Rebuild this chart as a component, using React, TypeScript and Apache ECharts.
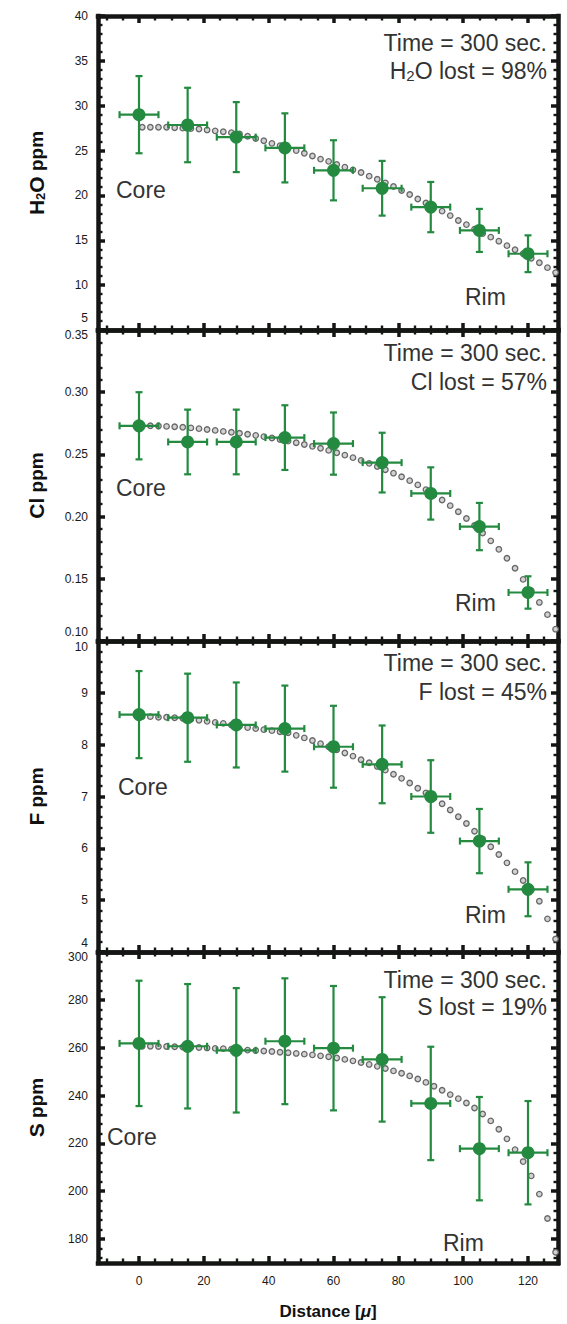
import React, { useEffect, useRef } from "react";
import * as echarts from "echarts";

// ---------- data ----------
const distance = [0, 15, 30, 45, 60, 75, 90, 105, 120];
const distanceErr = [6, 6, 6, 6, 6, 6, 6, 6, 6];

const h2oValues = [29.0, 27.85, 26.5, 25.3, 22.8, 20.8, 18.7, 16.1, 13.5];
const h2oErr = [4.3, 4.15, 3.9, 3.85, 3.35, 3.05, 2.8, 2.4, 2.05];
const clValues = [0.273, 0.26, 0.26, 0.2635, 0.2587, 0.2434, 0.2186, 0.192, 0.139];
const clErr = [0.027, 0.026, 0.026, 0.026, 0.025, 0.024, 0.021, 0.019, 0.013];
const fValues = [8.58, 8.52, 8.38, 8.31, 7.96, 7.62, 7.0, 6.14, 5.21];
const fErr = [0.84, 0.85, 0.82, 0.83, 0.79, 0.75, 0.7, 0.62, 0.52];
const sValues = [261.8, 260.6, 258.9, 262.7, 259.8, 255.1, 236.7, 217.8, 216.1];
const sErr = [26.2, 26.0, 26.0, 26.3, 26.0, 26.0, 23.7, 21.6, 21.6];

const modelDistance = [
  1, 3.5, 6, 8.5, 11, 13.5, 16, 18.5, 21, 23.5, 26, 28.5, 31, 33.5, 36, 38.5, 41, 43.5, 46, 48.5,
  51, 53.5, 56, 58.5, 61, 63.5, 66, 68.5, 71, 73.5, 76, 78.5, 81, 83.5, 86, 88.5, 91, 93.5, 96, 98.5,
  101, 103.5, 106, 108.5, 111, 113.5, 116, 118.5, 121, 123.5, 126, 128.5,
];
const h2oModel = [
  27.6, 27.6, 27.6, 27.6, 27.55, 27.5, 27.45, 27.4, 27.3, 27.2, 27.1, 27.0, 26.85, 26.6, 26.35, 26.1,
  25.8, 25.55, 25.3, 25.0, 24.7, 24.4, 24.05, 23.8, 23.45, 23.15, 22.85, 22.55, 22.15, 21.8, 21.4, 21.0,
  20.55, 20.1, 19.6, 19.15, 18.7, 18.25, 17.75, 17.2, 16.75, 16.25, 15.75, 15.35, 14.9, 14.4, 13.95,
  13.5, 13.0, 12.5, 11.95, 11.4,
];
const clModel = [
  0.273, 0.273, 0.2728, 0.2725, 0.2722, 0.2718, 0.2713, 0.2707, 0.27, 0.2693, 0.2685, 0.2678, 0.267,
  0.2662, 0.2653, 0.2643, 0.2632, 0.262, 0.2607, 0.2594, 0.258, 0.2565, 0.2549, 0.2532, 0.2513, 0.2494,
  0.2474, 0.2452, 0.2428, 0.2403, 0.2377, 0.2349, 0.232, 0.2289, 0.2255, 0.2217, 0.2175, 0.2133, 0.2088,
  0.2039, 0.1985, 0.1928, 0.1868, 0.1805, 0.1737, 0.1665, 0.1585, 0.1495, 0.1405, 0.131, 0.1212, 0.1095,
];
const fModel = [
  8.54, 8.54, 8.53, 8.53, 8.52, 8.51, 8.49, 8.47, 8.45, 8.43, 8.41, 8.38, 8.36, 8.33, 8.31, 8.29, 8.27,
  8.25, 8.23, 8.18, 8.13, 8.08, 8.02, 7.96, 7.9, 7.84, 7.78, 7.71, 7.65, 7.58, 7.51, 7.43, 7.35, 7.26,
  7.16, 7.07, 6.97, 6.86, 6.74, 6.61, 6.48, 6.33, 6.18, 6.03, 5.88, 5.72, 5.55, 5.38, 5.2, 4.98, 4.64, 4.25,
];
const sModel = [
  260.6, 260.6, 260.5, 260.5, 260.4, 260.3, 260.2, 260.1, 259.9, 259.7, 259.6, 259.4, 259.2, 259.0,
  258.8, 258.6, 258.4, 258.1, 257.9, 257.6, 257.3, 257.0, 256.6, 256.2, 255.7, 255.1, 254.5, 253.8,
  253.0, 252.2, 251.3, 250.3, 249.3, 248.2, 246.9, 245.5, 243.9, 242.2, 240.4, 238.7, 236.9, 234.8,
  232.3, 229.4, 225.9, 221.9, 217.4, 212.4, 206.4, 198.8, 188.6, 174.5,
];

// tick labels
const xTicks = [0, 20, 40, 60, 80, 100, 120];
const h2oTicks = [5, 10, 15, 20, 25, 30, 35, 40];
const clTicks = [0.1, 0.15, 0.2, 0.25, 0.3, 0.35];
const fTicks = [4, 5, 6, 7, 8, 9, 10];
const sTicks = [180, 200, 220, 240, 260, 280, 300];

const lostPercent = [98, 57, 45, 19];
const timeSec = 300;

// ---------- layout / style ----------
const W = 567;
const H = 1324;
const FONT = "'Liberation Sans', Arial, Helvetica, sans-serif";
const GREEN = "#238a40";
const AXIS = "#141614";
const TEXT = "#333333";
const X_MIN = -12.65;
const X_MAX = 129.25;
const GRID_LEFT = 98;
const GRID_RIGHT = 9;
const gridTops = [16, 330, 641, 952];
const gridHeights = [314, 311, 311, 311];

function steps(start: number, end: number, step: number, skip: number[]) {
  const out: number[] = [];
  for (let v = start; v <= end + 1e-9; v += step) {
    const r = Math.round(v * 1e6) / 1e6;
    if (!skip.some((s) => Math.abs(s - r) < 1e-9)) out.push(r);
  }
  return out;
}

const xMinor = steps(-10, 125, 5, xTicks);

const panels = [
  {
    axisName: "{e|H}{s|2}{e|O}{p| ppm}",
    lost: "{n|H}{s|2}{n|O lost = " + lostPercent[0] + "%}",
    min: 5, max: 40, ticks: h2oTicks, minor: steps(5, 40, 1, h2oTicks), dec: 0,
    values: h2oValues, errs: h2oErr, model: h2oModel,
    shiftMin: -12, shiftMax: 0,
    line1: 43, line2: 71, core: [116, 190], rim: [465, 297],
  },
  {
    axisName: "{e|Cl}{p| ppm}",
    lost: "{n|Cl lost = " + lostPercent[1] + "%}",
    min: 0.1, max: 0.35, ticks: clTicks, minor: steps(0.1, 0.35, 0.01, clTicks), dec: 2,
    values: clValues, errs: clErr, model: clModel,
    shiftMin: -9, shiftMax: 5,
    line1: 353, line2: 382, core: [116, 488], rim: [455, 603],
  },
  {
    axisName: "{e|F}{p| ppm}",
    lost: "{n|F lost = " + lostPercent[2] + "%}",
    min: 4, max: 10, ticks: fTicks, minor: steps(4, 10, 0.2, fTicks), dec: 0,
    values: fValues, errs: fErr, model: fModel,
    shiftMin: -9, shiftMax: 6,
    line1: 663, line2: 692, core: [118, 787], rim: [465, 915],
  },
  {
    axisName: "{e|S}{p| ppm}",
    lost: "{n|S lost = " + lostPercent[3] + "%}",
    min: 170, max: 300, ticks: sTicks, minor: steps(172, 300, 4, sTicks), dec: 0,
    values: sValues, errs: sErr, model: sModel,
    shiftMin: 0, shiftMax: 5,
    line1: 980, line2: 1007, core: [107, 1137], rim: [443, 1243],
  },
];

const lineOn = { show: true, onZero: false, lineStyle: { color: AXIS, width: 4.5, cap: "square" } };
const lineOff = { show: false, onZero: false };
const majorTick = (vals: number[]) => ({
  show: true, inside: true, length: 7, customValues: vals, lineStyle: { color: AXIS, width: 3.5 },
});
const minorTick = (vals: number[]) => ({
  show: true, inside: true, length: 4.5, customValues: vals, lineStyle: { color: AXIS, width: 2.4 },
});

function errorBarRender(params: any, api: any) {
  const x = api.value(0);
  const y = api.value(1);
  const ey = api.value(2);
  const ex = api.value(3);
  const c = api.coord([x, y]);
  const top = api.coord([x, y + ey]);
  const bot = api.coord([x, y - ey]);
  const left = api.coord([x - ex, y]);
  const right = api.coord([x + ex, y]);
  const cap = 3.5;
  const style = { stroke: GREEN, lineWidth: 2.2 };
  const ln = (x1: number, y1: number, x2: number, y2: number) => ({
    type: "line", shape: { x1, y1, x2, y2 }, style,
  });
  return {
    type: "group",
    children: [
      ln(c[0], top[1], c[0], bot[1]),
      ln(c[0] - cap, top[1], c[0] + cap, top[1]),
      ln(c[0] - cap, bot[1], c[0] + cap, bot[1]),
      ln(left[0], c[1], right[0], c[1]),
      ln(left[0], c[1] - cap, left[0], c[1] + cap),
      ln(right[0], c[1] - cap, right[0], c[1] + cap),
    ],
  };
}

function buildOption() {
  const grid: any[] = [];
  const xAxis: any[] = [];
  const yAxis: any[] = [];
  const series: any[] = [];
  const graphic: any[] = [];

  panels.forEach((p, i) => {
    grid.push({
      left: GRID_LEFT, right: GRID_RIGHT, top: gridTops[i], height: gridHeights[i],
      containLabel: false, outerBoundsMode: "none",
    });
    const base = i * 4;
    const xc = { type: "value", gridIndex: i, min: X_MIN, max: X_MAX, splitLine: { show: false } };
    const isLast = i === panels.length - 1;
    xAxis.push({
      ...xc, position: "bottom", axisLine: lineOn, axisTick: majorTick(xTicks),
      axisLabel: isLast
        ? { show: true, customValues: xTicks, margin: 12, fontSize: 12, color: "#1a1a1a", fontFamily: FONT }
        : { show: false },
      ...(isLast
        ? {
            name: "{b|Distance [}{i|\u03bc}{b|]}",
            nameLocation: "middle",
            nameGap: 40,
            nameTextStyle: {
              rich: {
                b: { fontSize: 17, fontWeight: "bold", fontFamily: FONT, color: "#111" },
                i: { fontSize: 17, fontWeight: "bold", fontStyle: "italic", fontFamily: FONT, color: "#111" },
              },
            },
          }
        : {}),
    });
    xAxis.push({ ...xc, position: "bottom", axisLine: lineOff, axisTick: minorTick(xMinor), axisLabel: { show: false } });
    xAxis.push({ ...xc, position: "top", axisLine: lineOn, axisTick: majorTick(xTicks), axisLabel: { show: false } });
    xAxis.push({ ...xc, position: "top", axisLine: lineOff, axisTick: minorTick(xMinor), axisLabel: { show: false } });

    const yc = { type: "value", gridIndex: i, min: p.min, max: p.max, splitLine: { show: false } };
    const labelBase = { fontSize: 12, color: "#1a1a1a", fontFamily: FONT };
    yAxis.push({
      ...yc, position: "left", axisLine: lineOn, axisTick: majorTick(p.ticks),
      axisLabel: {
        show: true, customValues: p.ticks, margin: 10, ...labelBase,
        formatter: (v: number) => {
          const s = v.toFixed(p.dec);
          if (Math.abs(v - p.min) < 1e-9 && p.shiftMin) return "{lo|" + s + "}";
          if (Math.abs(v - p.max) < 1e-9 && p.shiftMax) return "{hi|" + s + "}";
          return "{n|" + s + "}";
        },
        rich: {
          n: { ...labelBase },
          lo: { ...labelBase, padding: [0, 0, Math.abs(p.shiftMin) * 2, 0] },
          hi: { ...labelBase, padding: [Math.abs(p.shiftMax) * 2, 0, 0, 0] },
        },
      },
      name: p.axisName,
      nameLocation: "middle",
      nameGap: 51,
      nameTextStyle: {
        rich: {
          e: { fontSize: 21, fontWeight: "bold", fontFamily: FONT, color: "#111" },
          s: { fontSize: 13, fontWeight: "bold", fontFamily: FONT, color: "#111", verticalAlign: "bottom" },
          p: { fontSize: 19, fontWeight: "bold", fontFamily: FONT, color: "#111" },
        },
      },
    });
    yAxis.push({ ...yc, position: "left", axisLine: lineOff, axisTick: minorTick(p.minor), axisLabel: { show: false } });
    yAxis.push({ ...yc, position: "right", axisLine: lineOn, axisTick: majorTick(p.ticks), axisLabel: { show: false } });
    yAxis.push({ ...yc, position: "right", axisLine: lineOff, axisTick: minorTick(p.minor), axisLabel: { show: false } });

    series.push({
      type: "scatter", xAxisIndex: base, yAxisIndex: base, silent: true, z: 2,
      symbol: "circle", symbolSize: 5.5,
      itemStyle: { color: "#d2d2d2", borderColor: "#666666", borderWidth: 1.3, opacity: 1 },
      data: modelDistance.map((x, k) => [x, p.model[k]]),
    });
    series.push({
      type: "custom", xAxisIndex: base, yAxisIndex: base, silent: true, z: 3,
      renderItem: errorBarRender, encode: { x: 0, y: 1 },
      data: distance.map((x, k) => [x, p.values[k], p.errs[k], distanceErr[k]]),
    });
    series.push({
      type: "scatter", xAxisIndex: base, yAxisIndex: base, silent: true, z: 4,
      symbol: "circle", symbolSize: 13, itemStyle: { color: GREEN, opacity: 1 },
      data: distance.map((x, k) => [x, p.values[k]]),
    });

    const txt = (x: number, y: number, text: string, align: string, rich?: any) => ({
      type: "text", x, y, z: 20, silent: true,
      style: {
        text, fill: TEXT, fontSize: 23, fontFamily: FONT,
        align, verticalAlign: "middle", textAlign: align, textVerticalAlign: "middle",
        ...(rich ? { rich } : {}),
      },
    });
    const richLost = {
      n: { fontSize: 23, fontFamily: FONT, fill: TEXT },
      s: { fontSize: 15, fontFamily: FONT, fill: TEXT, verticalAlign: "bottom" },
    };
    graphic.push(txt(547, p.line1, "Time = " + timeSec + " sec.", "right"));
    graphic.push(txt(547, p.line2, p.lost, "right", richLost));
    graphic.push(txt(p.core[0], p.core[1], "Core", "left"));
    graphic.push(txt(p.rim[0], p.rim[1], "Rim", "left"));
  });

  return {
    animation: false,
    backgroundColor: "#ffffff",
    grid, xAxis, yAxis, series, graphic,
  };
}

export default function App() {
  const ref = useRef<HTMLDivElement>(null);
  useEffect(() => {
    if (!ref.current) return;
    const chart = echarts.init(ref.current, undefined, { renderer: "svg" });
    chart.setOption(buildOption() as any);
    return () => chart.dispose();
  }, []);
  return (
    <div
      ref={ref}
      style={{ position: "absolute", left: 0, top: 0, width: W, height: H, background: "#fff" }}
    />
  );
}
